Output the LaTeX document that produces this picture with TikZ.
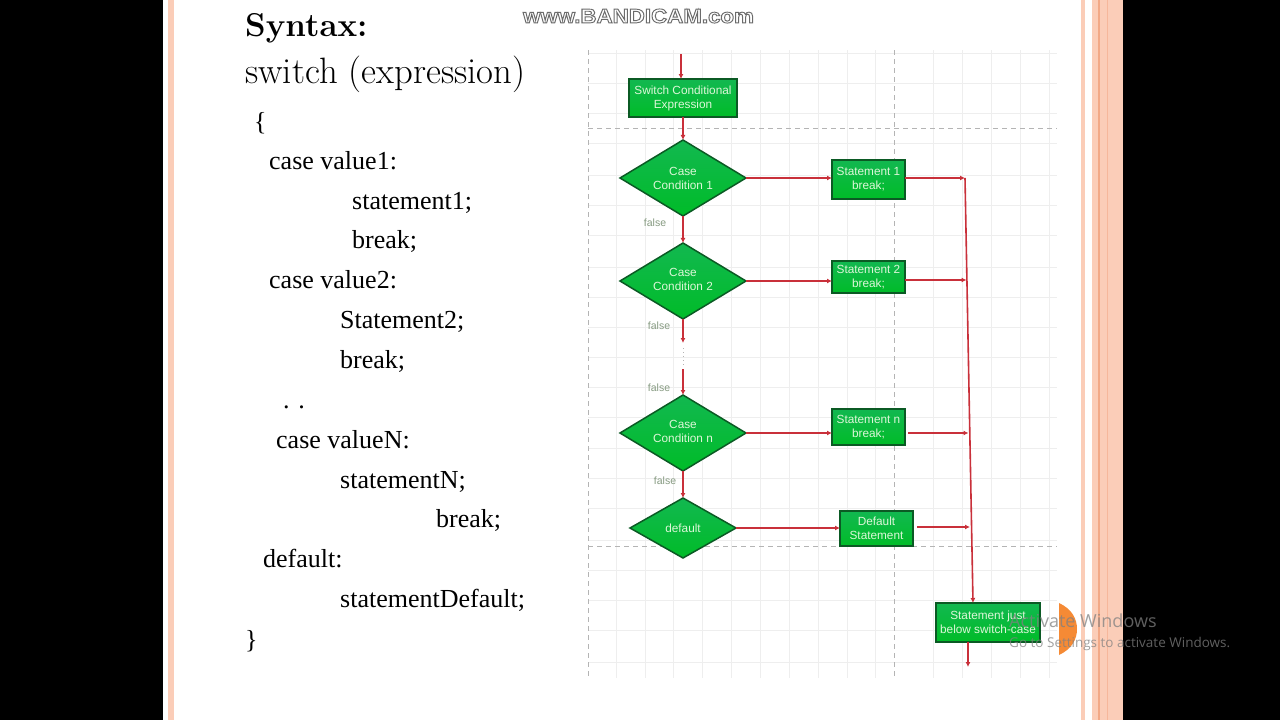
\documentclass[tikz,border=0pt]{standalone}
\usepackage{fontspec}
\newfontfamily\tnr{Liberation Serif}
\newfontfamily\arl{Liberation Sans}
\newfontfamily\segoe{Open Sans}
\usetikzlibrary{shapes.geometric,arrows.meta}
\definecolor{flowred}{HTML}{C9303A}
\definecolor{peach}{HTML}{FBCDB8}
\definecolor{peachdark}{HTML}{F2A987}
\definecolor{gridc}{HTML}{EEEEEE}
\definecolor{dashc}{HTML}{B4B4B4}
\definecolor{edgec}{HTML}{0B5A24}
\definecolor{labc}{HTML}{DDF7D8}
\definecolor{orangeseg}{HTML}{F58A35}
\tikzset{
  x=1pt,y=-1pt,
  boxst/.style={draw=edgec,line width=1.5pt,
    top color={rgb,255:red,18;green,184;blue,80},bottom color={rgb,255:red,0;green,188;blue,40},
    text=labc,font=\arl\fontsize{11.8}{14}\selectfont,align=center,inner sep=0pt,outer sep=0pt,
    minimum width=73pt},
  decst/.style={boxst,shape=diamond,shape aspect=1.66,minimum width=126pt,minimum height=76pt},
  flow/.style={draw=flowred,line width=1.6pt,-{Latex[length=5pt,width=5pt]}},
  falselab/.style={text={rgb,255:red,135;green,155;blue,130},font=\arl\fontsize{10.5}{12}\selectfont,inner sep=0pt},
  griddash/.style={draw=dashc,line width=1pt,dash pattern=on 5pt off 4pt},
  code/.style={anchor=base west,inner sep=0pt,font=\tnr\fontsize{26}{30}\selectfont,text=black},
  head/.style={anchor=base west,inner sep=0pt,text=black},
  winmark/.style={anchor=base west,inner sep=0pt,text=gray,opacity=.75}
}
\begin{document}
\begin{tikzpicture}
\useasboundingbox (0,0) rectangle (1280,720);
% slide
\fill[black] (0,0) rectangle (1280,720);
\fill[white] (163,0) rectangle (1123,720);
\fill[peach] (168,0) rectangle (174,720);
\fill[peach] (1081,0) rectangle (1085,720);
\fill[peach] (1092,0) rectangle (1123,720);
\fill[peachdark] (1098,0) rectangle (1100,720);
\fill[peachdark!60!peach] (1107,0) rectangle (1108,720);
% grid
\foreach \gx in {616,645,673,702,731,760,789,818,847,875,933,962,991,1020,1049}
  \draw[gridc,line width=.8pt] (\gx,50) -- (\gx,678);
\foreach \gy in {53,83,113,143,175,205,235,267,297,327,357,387,417,448,478,508,540,570,600,630,662}
  \draw[gridc,line width=.8pt] (588,\gy) -- (1057,\gy);
\draw[griddash] (588,50) -- (588,678);
\draw[griddash] (894,50) -- (894,678);
\draw[griddash] (588,128) -- (1057,128);
\draw[griddash] (588,546) -- (1057,546);
% left text
\node[head,font=\bfseries\fontsize{33}{36}\selectfont] (t0) at (245,36) {Syntax:};
\node[head,font=\fontsize{36.7}{40}\selectfont] (t1) at (245,83) {switch (expression)};
\node[code] (t2) at (254,130) {\{};
\node[code] (t3) at (269,169) {case value1:};
\node[code] (t4) at (352,209) {statement1;};
\node[code] (t5) at (352,248) {break;};
\node[code] (t6) at (269,288) {case value2:};
\node[code] (t7) at (340,328) {Statement2;};
\node[code] (t8) at (340,368) {break;};
\node[code] (t9) at (283,408) {. .};
\node[code] (t10) at (276,448) {case valueN:};
\node[code] (t11) at (340,488) {statementN;};
\node[code] (t12) at (436,527) {break;};
\node[code] (t13) at (263,567) {default:};
\node[code] (t14) at (340,607) {statementDefault;};
\node[code] (t15) at (245,648) {\}};
% nodes
\node[boxst,minimum width=108pt,minimum height=38pt] (sw) at (683,98) {Switch Conditional\\Expression};
\node[decst] (d1) at (683,178) {Case\\Condition 1};
\node[decst] (d2) at (683,281) {Case\\Condition 2\\[-10pt]\mbox{}};
\node[decst] (dn) at (683,433) {Case\\Condition n\\[-10pt]\mbox{}};
\node[decst,shape aspect=1.77,minimum width=106pt,minimum height=60pt] (dd) at (683,528) {default};
\node[boxst,minimum height=39pt] (s1) at (868.5,179.5) {Statement 1\\break;};
\node[boxst,minimum height=32pt] (s2) at (868.5,277) {Statement 2\\break;};
\node[boxst,minimum height=36pt] (sn) at (868.5,427) {Statement n\\break;};
\node[boxst,minimum height=35pt] (sd) at (876.5,528.5) {Default\\Statement};
\node[boxst,minimum width=104pt,minimum height=39pt] (fin) at (988,622.5) {Statement just\\below switch-case};
% coordinates
\coordinate (in) at (681,54);
\coordinate (intop) at (681,79);
\coordinate (gapa) at (683,343);
\coordinate (gapb) at (683,369);
\coordinate (r1) at (965,178);
\coordinate (r2) at (966.5,280);
\coordinate (r3) at (968.5,433);
\coordinate (r4) at (970,527);
\coordinate (rend) at (973,603);
\coordinate (s3o) at (908,433);
\coordinate (s4o) at (917,527);
\coordinate (out) at (968,667);
\coordinate (finb) at (968,642);
% connectors
\draw[flow] (in) -- (intop);
\draw[flow] (sw) -- (d1);
\draw[flow] (d1) -- (d2);
\draw[flow] (d2) -- (gapa);
\draw[flow] (gapb) -- (dn);
\draw[flow] (dn) -- (dd);
\draw[flow] (d1) -- (s1.west |- d1);
\draw[flow] (d2) -- (s2.west |- d2);
\draw[flow] (dn) -- (sn.west |- dn);
\draw[flow] (dd) -- (sd.west |- dd);
\draw[flow] (s1.east |- r1) -- (r1);
\draw[flow] (s2.east |- r2) -- (r2);
\draw[flow] (s3o) -- (r3);
\draw[flow] (s4o) -- (r4);
\draw[flow] (r1) -- (rend);
\draw[flow] (finb) -- (out);
\draw[dashc,line width=.8pt,dash pattern=on 1pt off 3pt] (gapa) ++(0,5) -- ++(0,17);
% false labels
\node[falselab] (f1) at (655,223) {false};
\node[falselab] (f2) at (659,326) {false};
\node[falselab] (f3) at (659,388) {false};
\node[falselab] (f4) at (665,481) {false};
% orange segment
\fill[orangeseg] (1059,603) .. controls (1072,609) and (1077,619) .. (1077,629) .. controls (1077,639) and (1072,649) .. (1059,655) -- cycle;
% watermarks
\node[winmark,font=\segoe\fontsize{18}{20}\selectfont] (w1) at (1009,627) {Activate Windows};
\node[winmark,font=\segoe\fontsize{13.5}{15}\selectfont] (w2) at (1009,647) {Go to Settings to activate Windows.};
\node[inner sep=0pt,text=white,font=\arl\bfseries\fontsize{20}{22}\selectfont,xscale=1.115,transform shape] (b1) at (638.5,16)
  {\special{pdf:code 2 Tr 0.9 w 0.42 0.42 0.42 RG}www.BANDICAM.com\special{pdf:code 0 Tr}};
\end{tikzpicture}
\end{document}
